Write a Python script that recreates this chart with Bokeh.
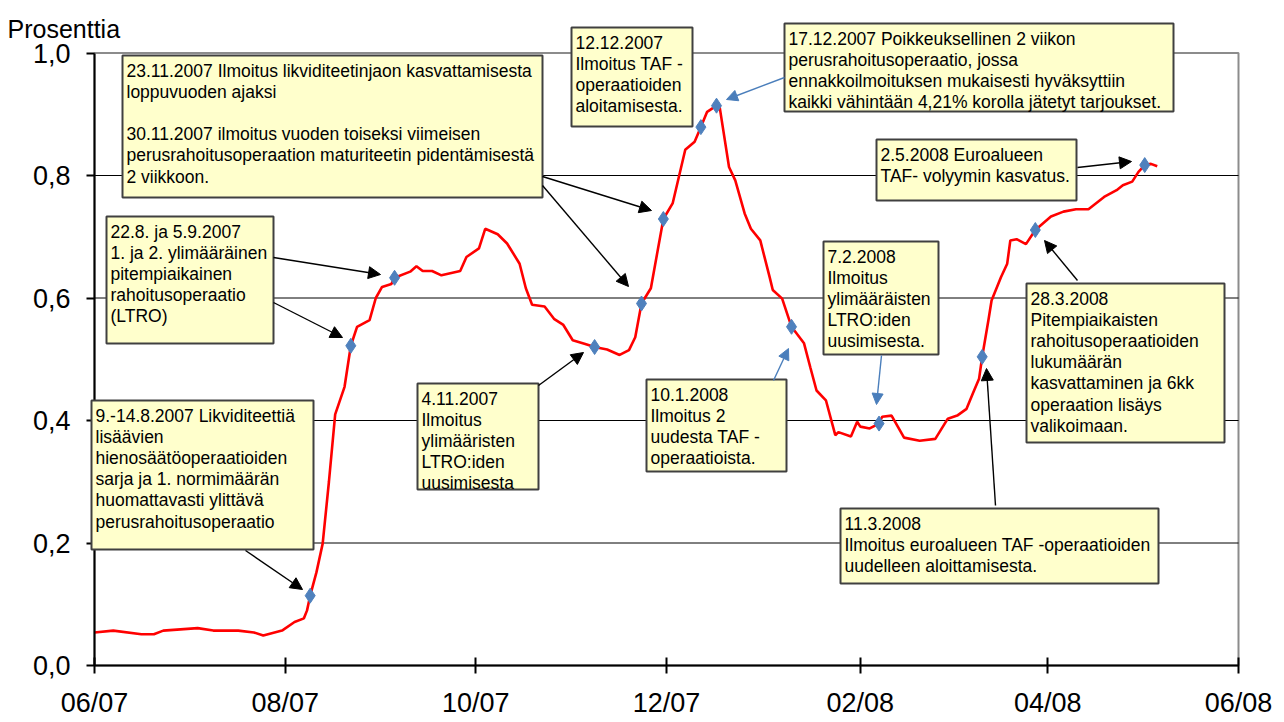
import pandas as pd
from bokeh.plotting import figure
from bokeh.models import (Range1d, FixedTicker, BoxAnnotation, Label, Arrow,
                          NormalHead, ColumnDataSource)
from bokeh.embed import file_html
from bokeh.resources import INLINE

FONT = "Liberation Sans"

# ---------------- data ----------------
dates = [
    "2007-06-01", "2007-06-07", "2007-06-16", "2007-06-20", "2007-06-23",
    "2007-07-04", "2007-07-09", "2007-07-17", "2007-07-22", "2007-07-25",
    "2007-07-31", "2007-08-04", "2007-08-07", "2007-08-08", "2007-08-09",
    "2007-08-11", "2007-08-13", "2007-08-15", "2007-08-17", "2007-08-20",
    "2007-08-22", "2007-08-24", "2007-08-28", "2007-08-30", "2007-09-01",
    "2007-09-04", "2007-09-05", "2007-09-10", "2007-09-12", "2007-09-14",
    "2007-09-17", "2007-09-20", "2007-09-26", "2007-09-28", "2007-10-02",
    "2007-10-04", "2007-10-08", "2007-10-11", "2007-10-15", "2007-10-17",
    "2007-10-19", "2007-10-23", "2007-10-26", "2007-10-29", "2007-11-01",
    "2007-11-05", "2007-11-08", "2007-11-12", "2007-11-16", "2007-11-19",
    "2007-11-21", "2007-11-23", "2007-11-26", "2007-11-30", "2007-12-03",
    "2007-12-07", "2007-12-10", "2007-12-12", "2007-12-14", "2007-12-17",
    "2007-12-18", "2007-12-21", "2007-12-23", "2007-12-26", "2007-12-28",
    "2007-12-31", "2008-01-03", "2008-01-04", "2008-01-07", "2008-01-10",
    "2008-01-14", "2008-01-16", "2008-01-18", "2008-01-21", "2008-01-24",
    "2008-01-25", "2008-01-29", "2008-01-31", "2008-02-01", "2008-02-04",
    "2008-02-07", "2008-02-08", "2008-02-11", "2008-02-15", "2008-02-20",
    "2008-02-25", "2008-02-29", "2008-03-03", "2008-03-06", "2008-03-08",
    "2008-03-10", "2008-03-11", "2008-03-13", "2008-03-14", "2008-03-17",
    "2008-03-19", "2008-03-20", "2008-03-22", "2008-03-25", "2008-03-28",
    "2008-04-02", "2008-04-06", "2008-04-10", "2008-04-14", "2008-04-19",
    "2008-04-23", "2008-04-25", "2008-04-28", "2008-04-30", "2008-05-02",
    "2008-05-04", "2008-05-06",
]
values = [
    0.054, 0.057, 0.051, 0.051, 0.057,
    0.061, 0.057, 0.057, 0.054, 0.049,
    0.057, 0.071, 0.077, 0.090, 0.114,
    0.152, 0.199, 0.300, 0.410, 0.455,
    0.522, 0.553, 0.564, 0.600, 0.618,
    0.623, 0.633, 0.643, 0.652, 0.644,
    0.644, 0.637, 0.644, 0.667, 0.681,
    0.713, 0.704, 0.689, 0.656, 0.616,
    0.589, 0.586, 0.566, 0.556, 0.531,
    0.525, 0.520, 0.516, 0.507, 0.515,
    0.536, 0.591, 0.616, 0.729, 0.755,
    0.842, 0.855, 0.879, 0.904, 0.914,
    0.912, 0.814, 0.792, 0.738, 0.713,
    0.694, 0.634, 0.613, 0.599, 0.553,
    0.526, 0.487, 0.449, 0.433, 0.376,
    0.381, 0.374, 0.398, 0.390, 0.387,
    0.395, 0.406, 0.408, 0.372, 0.367,
    0.370, 0.403, 0.408, 0.419, 0.444,
    0.468, 0.504, 0.564, 0.596, 0.634,
    0.656, 0.694, 0.696, 0.688, 0.711,
    0.733, 0.741, 0.745, 0.745, 0.765,
    0.776, 0.784, 0.790, 0.806, 0.817,
    0.819, 0.815,
]

event_dates = ["2007-08-09", "2007-08-22", "2007-09-05", "2007-11-08",
               "2007-11-23", "2007-11-30", "2007-12-12", "2007-12-17",
               "2008-01-10", "2008-02-07", "2008-03-11", "2008-03-28",
               "2008-05-02"]
event_values = [0.114, 0.522, 0.633, 0.520, 0.591, 0.729, 0.879, 0.914,
                0.553, 0.395, 0.504, 0.711, 0.817]

x_tick_dates = ["2007-06-01", "2007-08-01", "2007-10-01", "2007-12-01",
                "2008-02-01", "2008-04-01", "2008-06-01"]
x_tick_labels = ["06/07", "08/07", "10/07", "12/07", "02/08", "04/08", "06/08"]
y_ticks = [0.0, 0.2, 0.4, 0.6, 0.8, 1.0]
y_tick_labels = ["0,0", "0,2", "0,4", "0,6", "0,8", "1,0"]
y_label = "Prosenttia"

notes = [
    "23.11.2007 Ilmoitus likviditeetinjaon kasvattamisesta\nloppuvuoden ajaksi\n\n"
    "30.11.2007 ilmoitus vuoden toiseksi viimeisen\nperusrahoitusoperaation maturiteetin pidentämisestä\n2 viikkoon.",
    "22.8. ja 5.9.2007\n1. ja 2. ylimääräinen\npitempiaikainen\nrahoitusoperaatio\n(LTRO)",
    "9.-14.8.2007 Likviditeettiä\nlisäävien\nhienosäätöoperaatioiden\nsarja ja 1. normimäärän\n"
    "huomattavasti ylittävä\nperusrahoitusoperaatio",
    "4.11.2007\nIlmoitus\nylimääristen\nLTRO:iden\nuusimisesta",
    "12.12.2007\nIlmoitus TAF -\noperaatioiden\naloitamisesta.",
    "17.12.2007 Poikkeuksellinen 2 viikon\nperusrahoitusoperaatio, jossa\n"
    "ennakkoilmoituksen mukaisesti hyväksyttiin\nkaikki vähintään 4,21% korolla jätetyt tarjoukset.",
    "10.1.2008\nIlmoitus 2\nuudesta TAF -\noperaatioista.",
    "7.2.2008\nIlmoitus\nylimääräisten\nLTRO:iden\nuusimisesta.",
    "2.5.2008 Euroalueen\nTAF- volyymin kasvatus.",
    "28.3.2008\nPitempiaikaisten\nrahoitusoperaatioiden\nlukumäärän\nkasvattaminen ja 6kk\n"
    "operaation lisäys\nvalikoimaan.",
    "11.3.2008\nIlmoitus euroalueen TAF -operaatioiden\nuudelleen aloittamisesta.",
]

# ---------------- layout (reference pixel positions) ----------------
# box: left, top, right, bottom
note_boxes = [
    (122, 55, 542, 197),
    (106, 216, 273, 343),
    (91, 400, 313, 549),
    (417, 383, 538, 489),
    (571, 27, 692, 126),
    (784, 23, 1173, 111),
    (646, 379, 786, 471),
    (823, 241, 938, 354),
    (876, 139, 1076, 200),
    (1026, 283, 1224, 442),
    (840, 508, 1158, 583),
]
BLUE = "#4a7ebb"
arrows = [
    (245, 550, 302, 589, "black"),
    (273, 257, 380, 274, "black"),
    (273, 302, 342, 337, "black"),
    (542, 176, 651, 210, "black"),
    (542, 185, 628, 286, "black"),
    (538, 385, 583, 352, "black"),
    (784, 77, 726, 99, BLUE),
    (773, 380, 788, 348, BLUE),
    (881, 355, 876, 404, BLUE),
    (1077, 167, 1131, 161, "black"),
    (1077, 280, 1044, 240, "black"),
    (995, 505, 986, 368, "black"),
]

REF_L, REF_R, REF_T, REF_B = 94, 1238, 52.5, 665
W, H = 1280, 720


def ms(s):
    return pd.Timestamp(s).value / 1e6


X0, X1 = ms(x_tick_dates[0]), ms(x_tick_dates[-1])


def X(px):
    return X0 + (px - REF_L) / (REF_R - REF_L) * (X1 - X0)


def Y(py):
    return (REF_B - py) / (REF_B - REF_T)


# ---------------- figure (frame = whole canvas, axes at fixed locations) ----------------
p = figure(width=W, height=H, output_backend="svg", toolbar_location=None,
           x_range=Range1d(X(0), X(W)), y_range=Range1d(Y(H), Y(0)),
           min_border_left=0, min_border_right=0, min_border_top=0,
           min_border_bottom=0)
p.background_fill_color = "white"
p.border_fill_color = "white"
p.outline_line_color = None
p.grid.visible = False

# plot-area border (grey top and right, as in the original)
p.add_layout(BoxAnnotation(left=X0, right=X1, bottom=y_ticks[0], top=y_ticks[-1],
                           fill_color=None, fill_alpha=0, line_color="#8c8c8c",
                           line_alpha=1.0, line_width=2, level="underlay"))

# horizontal grid lines between the axis limits
grid_vals = y_ticks[1:-1]
p.segment(x0=[X0] * len(grid_vals), y0=grid_vals, x1=[X1] * len(grid_vals),
          y1=grid_vals, line_color="black", line_width=1)

xt = [ms(d) for d in x_tick_dates]
p.xaxis.ticker = FixedTicker(ticks=xt)
p.xaxis.major_label_overrides = {t: l for t, l in zip(xt, x_tick_labels)}
p.yaxis.ticker = FixedTicker(ticks=y_ticks)
p.yaxis.major_label_overrides = {t: l for t, l in zip(y_ticks, y_tick_labels)}
p.xaxis.fixed_location = y_ticks[0]
p.yaxis.fixed_location = X0
p.xaxis.bounds = (X0, X1)
p.yaxis.bounds = (y_ticks[0], y_ticks[-1])

for ax in (p.xaxis, p.yaxis):
    ax.axis_line_color = "black"
    ax.axis_line_width = 2
    ax.major_tick_line_color = "black"
    ax.major_tick_line_width = 2
    ax.minor_tick_line_color = None
    ax.major_label_text_font = FONT
    ax.major_label_text_font_size = "27px"
    ax.major_label_text_color = "black"
p.xaxis.major_tick_in = 8
p.xaxis.major_tick_out = 8
p.xaxis.major_label_standoff = 14
p.yaxis.major_tick_in = 0
p.yaxis.major_tick_out = 8
p.yaxis.major_label_standoff = 16

src = ColumnDataSource(dict(x=[ms(d) for d in dates], y=values))
p.line("x", "y", source=src, line_color="#ff0000", line_width=2.6)
esrc = ColumnDataSource(dict(x=[ms(d) for d in event_dates], y=event_values))
p.scatter("x", "y", source=esrc, marker="diamond", size=15,
          fill_color="#4f81bd", line_color="#4f81bd")

p.add_layout(Label(x=X(7), y=Y(28.5), text=y_label, text_font=FONT,
                   text_font_size="25px", text_color="black",
                   text_baseline="alphabetic"))

for (l, t, r, b), txt in zip(note_boxes, notes):
    p.add_layout(BoxAnnotation(left=X(l), right=X(r), top=Y(t), bottom=Y(b),
                               fill_color="#ffffcc", fill_alpha=1.0,
                               line_color="#404040", line_alpha=1.0,
                               line_width=2))
    p.add_layout(Label(x=X(l + 4), y=Y(t + 5), text=txt, text_font=FONT,
                       text_font_size="17.5px", text_color="black",
                       text_baseline="top", text_align="left",
                       text_line_height=1.06))

for xs, ys, xe, ye, c in arrows:
    size = 12 if c == "black" else 11
    p.add_layout(Arrow(end=NormalHead(size=size, fill_color=c, line_color=c),
                       x_start=X(xs), y_start=Y(ys), x_end=X(xe), y_end=Y(ye),
                       line_color=c, line_width=1.4))

open("out.html", "w").write(file_html(p, INLINE))
